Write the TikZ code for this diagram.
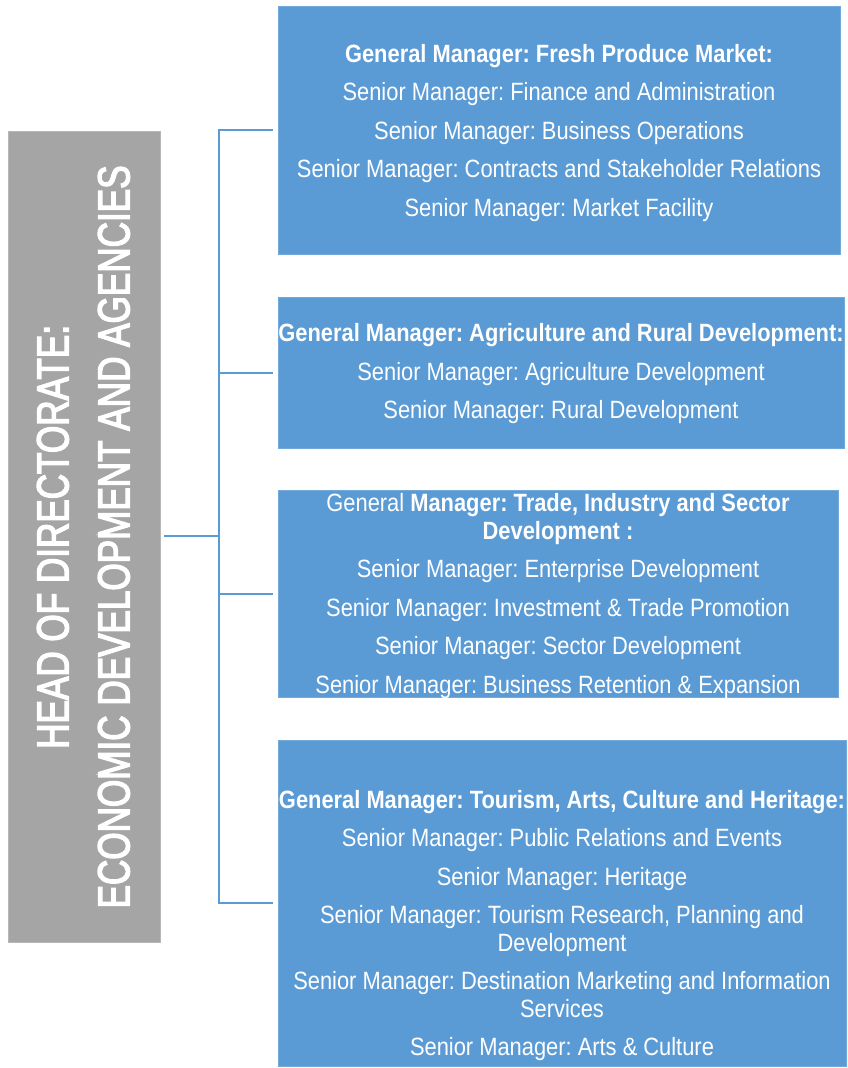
\documentclass[tikz,border=0pt]{standalone}
\usepackage{fontspec}
\setmainfont[FakeStretch=0.875]{Liberation Sans}
\newfontfamily\headfont[FakeStretch=0.78, FakeBold=3]{Liberation Sans}
\frenchspacing
\definecolor{boxblue}{HTML}{5B9BD5}
\definecolor{headgray}{HTML}{A5A5A5}
\tikzset{
  bluebox/.style={draw=boxblue!85!white, line width=0.8pt, fill=boxblue, inner sep=0pt, anchor=north west},
  boxtext/.style={text=white, align=center, inner sep=0pt, font=\fontsize{25pt}{27.5pt}\selectfont},
  headbox/.style={draw=headgray!80!white, line width=0.8pt, fill=headgray, inner sep=0pt, anchor=north west},
  headtext/.style={text=white, align=center, inner sep=0pt, rotate=90, font=\headfont\fontsize{45pt}{61pt}\selectfont},
  conn/.style={draw=boxblue, line width=2pt}
}
\begin{document}
\begin{tikzpicture}[x=1pt,y=-1pt]
\useasboundingbox (0,0) rectangle (848,1068);
% head
\node[headbox, minimum width=152pt, minimum height=811pt] (head) at (8,131) {};
\node[headtext] (headlbl) at ([xshift=-1pt]head.center) {HEAD OF DIRECTORATE:\\ECONOMIC DEVELOPMENT AND AGENCIES};
% boxes
\node[bluebox, minimum width=562pt, minimum height=248pt] (b1) at (278,6) {};
\node[bluebox, minimum width=566pt, minimum height=151pt] (b2) at (278,297) {};
\node[bluebox, minimum width=560pt, minimum height=207pt] (b3) at (278,490) {};
\node[bluebox, minimum width=568pt, minimum height=326pt] (b4) at (278,740) {};
% texts
\node[boxtext] (t1) at (559,133) {\textbf{General Manager: Fresh Produce Market:}\\[11pt]
Senior Manager: Finance and Administration\\[11pt]
Senior Manager: Business Operations\\[11pt]
Senior Manager: Contracts and Stakeholder Relations\\[11pt]
Senior Manager: Market Facility};
\node[boxtext] (t2) at (561,374) {\textbf{General Manager: Agriculture and Rural Development:}\\[11pt]
Senior Manager: Agriculture Development\\[11pt]
Senior Manager: Rural Development};
\node[boxtext] (t3) at (558,596) {General \textbf{Manager: Trade, Industry and Sector}\\
\textbf{Development :}\\[11pt]
Senior Manager: Enterprise Development\\[11pt]
Senior Manager: Investment \& Trade Promotion\\[11pt]
Senior Manager: Sector Development\\[11pt]
Senior Manager: Business Retention \& Expansion};
\node[boxtext] (t4) at (562,925.5) {\textbf{General Manager: Tourism, Arts, Culture and Heritage:}\\[11pt]
Senior Manager: Public Relations and Events\\[11pt]
Senior Manager: Heritage\\[11pt]
Senior Manager: Tourism Research, Planning and\\
Development\\[11pt]
Senior Manager: Destination Marketing and Information\\
Services\\[11pt]
Senior Manager: Arts \& Culture};
% connectors
\coordinate (spine) at (219,536);
\draw[conn] ([xshift=3pt]head.east |- spine) -- (spine);
\draw[conn] (spine) |- ([xshift=-5pt]b1.west);
\draw[conn] (spine) |- ([xshift=-5pt]b2.west);
\draw[conn] (spine) |- ([xshift=-5pt]b3.west);
\draw[conn] (spine) |- ([xshift=-5pt]b4.west);
\end{tikzpicture}
\end{document}
